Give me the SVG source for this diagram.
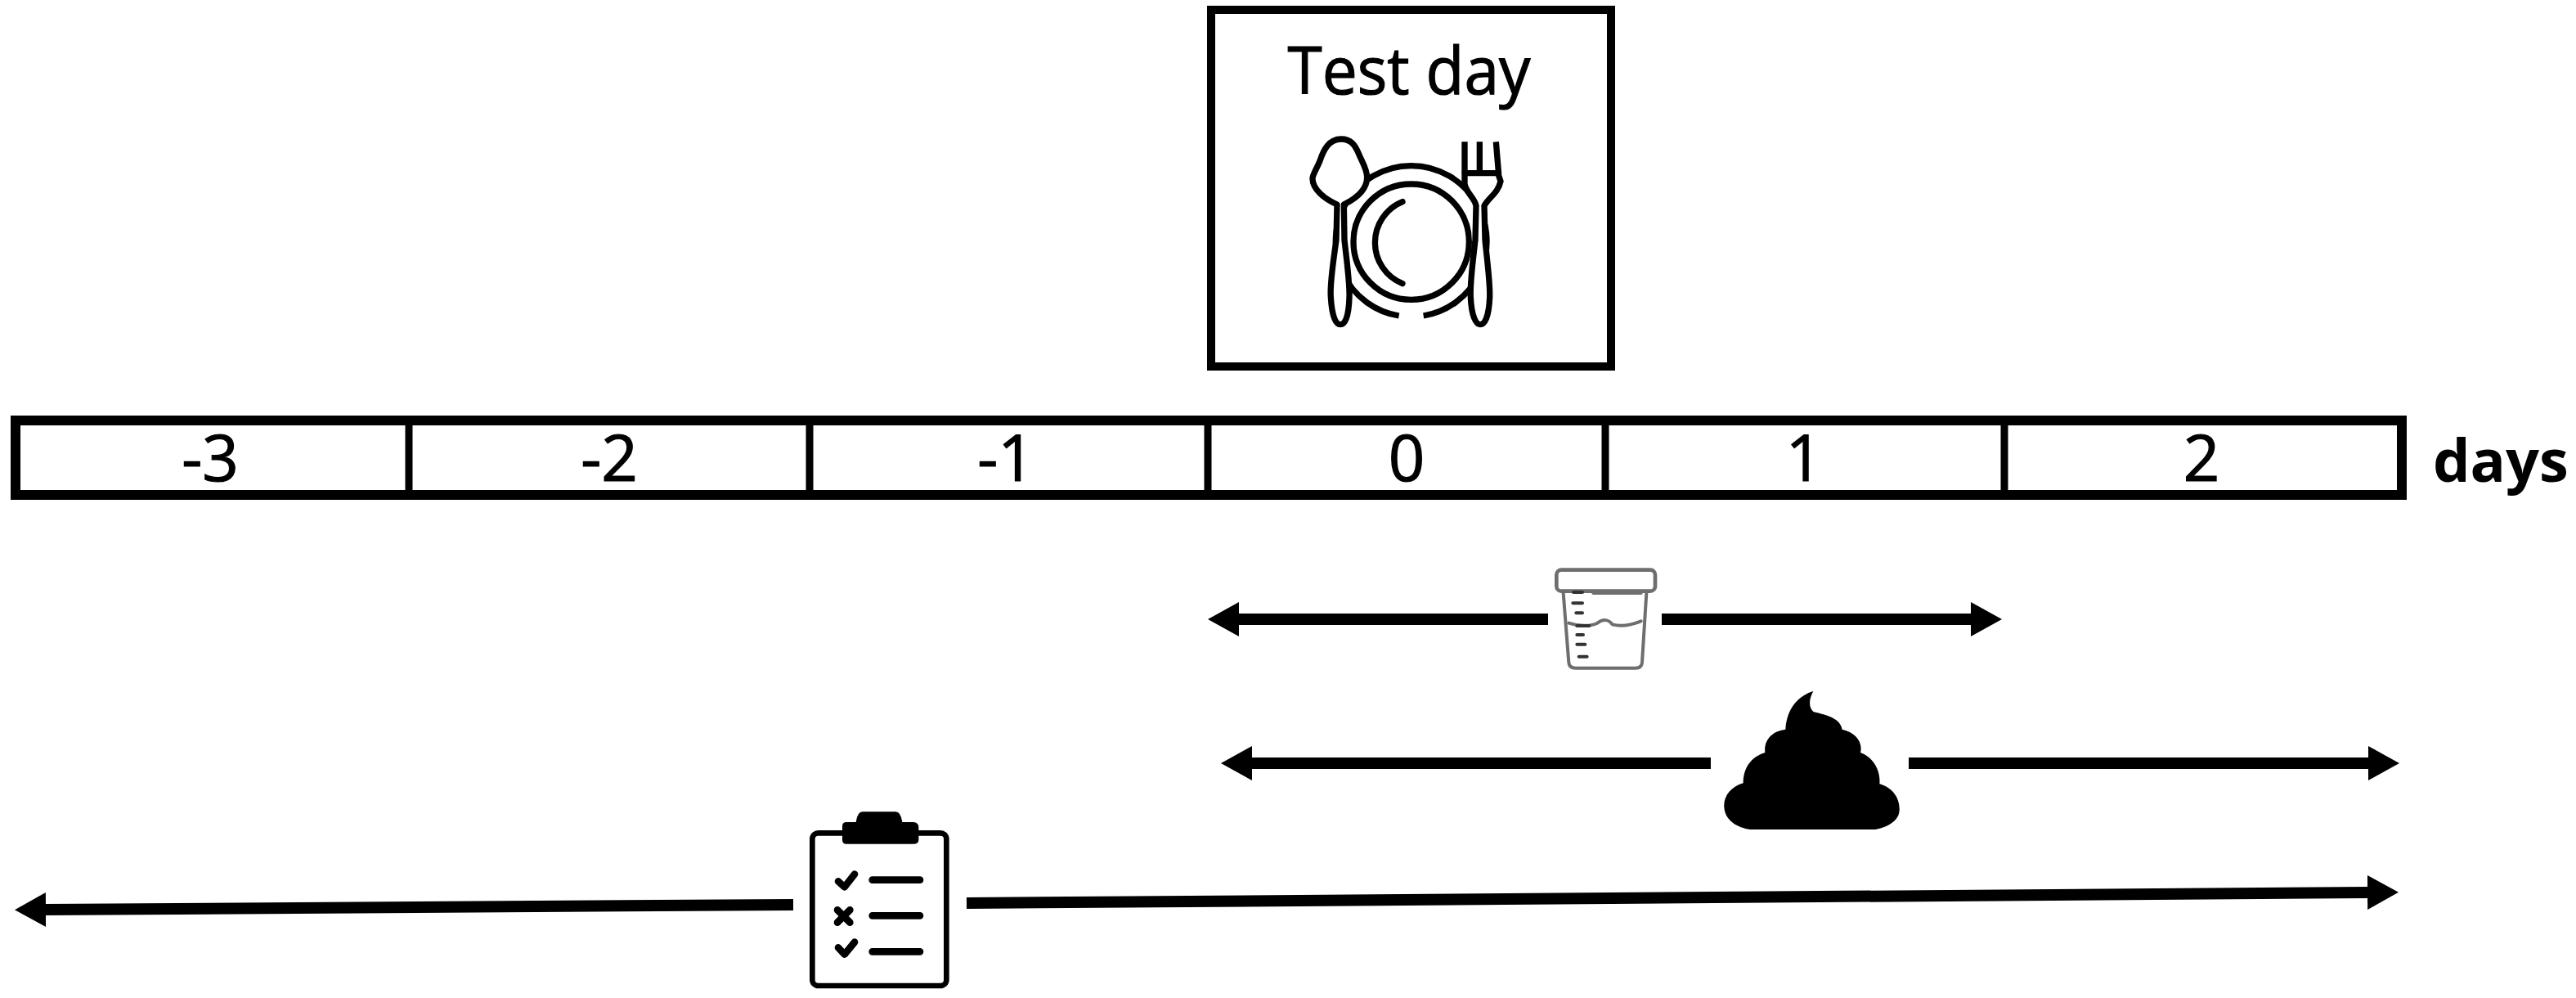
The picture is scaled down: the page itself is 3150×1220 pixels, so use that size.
<svg xmlns="http://www.w3.org/2000/svg" width="3150" height="1220" viewBox="0 0 3150 1220">
<style>
text{font-family:"Open Sans","Noto Sans","Liberation Sans",sans-serif;fill:#000}
.heavy{stroke:#000;stroke-width:1.2}
.day{font-size:78px;text-anchor:middle}
.ln{fill:#fff;stroke:#000;stroke-width:22;stroke-linejoin:round;stroke-linecap:round}
.arrow{fill:none;stroke:#000;stroke-width:14}
.cup{fill:none;stroke:#6e6e6e;stroke-width:12;stroke-linecap:round;stroke-linejoin:round}
.tick{fill:none;stroke:#333;stroke-width:12;stroke-linecap:round}
.cl{fill:none;stroke:#000;stroke-width:26;stroke-linecap:round;stroke-linejoin:round}
</style>
<defs>
<marker id="head" markerUnits="userSpaceOnUse" viewBox="0 0 38 42" markerWidth="38" markerHeight="42" refX="2" refY="21" orient="auto-start-reverse"><path d="M0 0L38 21L0 42Z" fill="#000"/></marker>
</defs>
<rect width="3150" height="1220" fill="#fff"/>
<g id="test-day">
<rect x="1481" y="12" width="489" height="436" fill="#fff" stroke="#000" stroke-width="10"/>
<text class="heavy" x="1723" y="115" font-size="81" text-anchor="middle" textLength="297" lengthAdjust="spacingAndGlyphs">Test day</text>
<g transform="translate(1590 150) scale(.33333)" fill="none" stroke="#000" stroke-width="22">
<path d="M362 708A277 277 0 1 1 452 708"/>
<circle cx="407" cy="437" r="212"/>
<path stroke-linecap="round" d="M375 290A162 162 0 0 0 375 590"/>
<path class="ln" d="M150 60C105 60 85 100 72 140C60 170 45 190 45 205C45 245 90 280 135 300L132 430C120 520 108 590 112 640C116 710 130 740 147 740C165 740 178 710 180 640C182 590 172 520 162 430L160 300C200 280 245 250 245 200C245 170 225 140 215 115C200 80 185 60 150 60Z"/>
<path class="ln" d="M603 185V225C610 260 640 275 645 305L642 430C632 520 622 590 625 640C628 710 645 740 660 740C677 740 692 710 695 640C697 590 687 520 678 430L675 305C690 275 725 260 735 215L725 185Z"/>
<path d="M603 70V185M658 70V185M718 70L728 190"/>
</g>
</g>
<g id="timeline">
<rect x="19" y="514" width="2918" height="91" fill="#fff" stroke="#000" stroke-width="12"/>
<path d="M500 514V605M990 514V605M1477 514V605M1963 514V605M2451 514V605" stroke="#000" stroke-width="9" fill="none"/>
<text class="day heavy" x="257" y="588">-3</text>
<text class="day heavy" x="745" y="588">-2</text>
<text class="day heavy" x="1230" y="588">-1</text>
<text class="day heavy" x="1720" y="588">0</text>
<text class="day heavy" x="2206" y="588">1</text>
<text class="day heavy" x="2692" y="588">2</text>
</g>
<g id="days-label"><text x="2975" y="589" font-size="72" font-weight="700">days</text></g>
<g id="connectors">
<path class="arrow" marker-start="url(#head)" d="M1513 757H1893"/>
<path class="arrow" marker-end="url(#head)" d="M2032 757H2412"/>
<path class="arrow" marker-start="url(#head)" d="M1529 933H2092"/>
<path class="arrow" marker-end="url(#head)" d="M2334 933H2898"/>
<path class="arrow" marker-start="url(#head)" d="M54 1112L970 1106"/>
<path class="arrow" marker-end="url(#head)" d="M1182 1104L2897 1091"/>
</g>
<g id="urine-cup" transform="translate(1800 670) scale(.33333)">
<rect x="310" y="80" width="362" height="78" rx="18" fill="#fff" stroke="#6e6e6e" stroke-width="14"/>
<path class="cup" d="M335 165L355 420Q357 440 380 440H600Q622 440 624 420L640 165"/>
<path class="cup" d="M445 165H620M355 275C400 290 440 285 460 275C480 260 500 260 515 280C550 290 590 280 620 268"/>
<path class="tick" d="M372 162H405M370 202H405M382 238H405M385 285H430M385 318H408M385 353H415M392 398H422"/>
</g>
<g id="stool" transform="translate(2080 830) scale(.33333)">
<path d="M180 552H640C695 540 730 515 728 475C728 430 695 395 655 385C660 335 630 285 585 270C595 230 565 195 518 185C510 145 470 135 412 120C395 105 395 75 412 45C360 60 315 105 310 185C265 190 230 220 235 270C185 285 155 325 155 382C110 395 82 430 85 470C88 520 135 545 180 552Z" fill="#000"/>
</g>
<g id="checklist" transform="translate(920 960) scale(.33333)">
<rect x="220" y="175" width="492" height="560" rx="22" fill="#fff" stroke="#000" stroke-width="20"/>
<path d="M330 150Q330 135 345 135H380Q385 97 405 97H525Q545 97 550 135H590Q610 135 610 155V200Q610 215 590 215H345Q330 215 330 200Z" fill="#000"/>
<path class="cl" d="M440 347H615M440 478H615M440 610H615"/>
<path class="cl" stroke-width="20" d="M315 352L338 373L375 326M315 595L338 620L375 575M312 457L358 503M358 457L312 503"/>
</g>
</svg>
